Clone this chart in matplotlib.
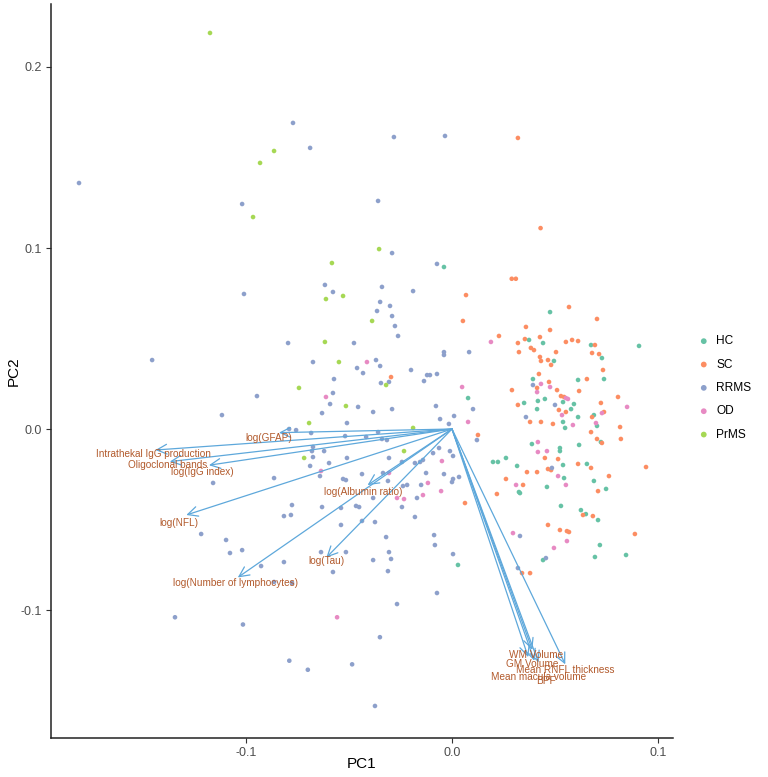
import numpy as np
import matplotlib.pyplot as plt

plt.rcParams['font.family'] = ['Liberation Sans', 'DejaVu Sans']

# PCA scores (PC1, PC2) per group
hc_x = [-0.0039, 0.0078, 0.0029, 0.0476, 0.0908, 0.0374, 0.0442, 0.0495, 0.0675, 0.0728,
        0.0738, 0.0612, 0.0393, 0.0451, 0.0417, 0.0350, 0.0539, 0.0592, 0.0578, 0.0413,
        0.0612, 0.0689, 0.0704, 0.0539, 0.0549, 0.0388, 0.0617, 0.0524, 0.0524, 0.0723,
        0.0199, 0.0223, 0.0262, 0.0316, 0.0539, 0.0655, 0.0544, 0.0689, 0.0748, 0.0461,
        0.0325, 0.0330, 0.0529, 0.0626, 0.0650, 0.0709, 0.0718, 0.0694, 0.0845, 0.0442]
hc_y = [0.0895, 0.0171, -0.0751, 0.0646, 0.0459, 0.0492, 0.0475, 0.0376, 0.0464, 0.0392,
        0.0276, 0.0271, 0.0276, 0.0166, 0.0155, 0.0144, 0.0149, 0.0138, 0.0110, 0.0110,
        0.0066, 0.0077, 0.0017, 0.0039, 0.0006, -0.0083, -0.0088, -0.0105, -0.0122, -0.0072,
        -0.0182, -0.0182, -0.0160, -0.0204, -0.0199, -0.0193, -0.0271, -0.0287, -0.0331, -0.0320,
        -0.0348, -0.0354, -0.0425, -0.0448, -0.0470, -0.0503, -0.0641, -0.0707, -0.0696, -0.0724]

sc_x = [0.0320, 0.0430, 0.0290, 0.0310, 0.0068, 0.0053, -0.0296, 0.0126, 0.0568, 0.0704,
        0.0359, 0.0228, 0.0476, 0.0320, 0.0354, 0.0427, 0.0325, 0.0383, 0.0398, 0.0505,
        0.0427, 0.0432, 0.0466, 0.0481, 0.0553, 0.0583, 0.0612, 0.0694, 0.0680, 0.0714,
        0.0733, 0.0422, 0.0655, 0.0471, 0.0413, 0.0510, 0.0617, 0.0291, 0.0529, 0.0544,
        0.0320, 0.0723, 0.0806, 0.0519, 0.0553, 0.0680, 0.0738, 0.0379, 0.0432, 0.0490,
        0.0675, 0.0816, 0.0820, 0.0704, 0.0728, 0.0451, 0.0515, 0.0612, 0.0675, 0.0364,
        0.0413, 0.0466, 0.0481, 0.0942, 0.0762, 0.0262, 0.0218, 0.0345, 0.0709, 0.0063,
        0.0636, 0.0684, 0.0466, 0.0524, 0.0558, 0.0568, 0.0888, 0.0340, 0.0379]
sc_y = [0.1608, 0.1110, 0.0830, 0.0830, 0.0740, 0.0597, 0.0287, -0.0033, 0.0674, 0.0608,
        0.0564, 0.0514, 0.0547, 0.0475, 0.0497, 0.0508, 0.0425, 0.0448, 0.0436, 0.0425,
        0.0398, 0.0376, 0.0381, 0.0354, 0.0481, 0.0492, 0.0486, 0.0464, 0.0420, 0.0414,
        0.0326, 0.0304, 0.0276, 0.0260, 0.0227, 0.0215, 0.0210, 0.0215, 0.0182, 0.0177,
        0.0133, 0.0144, 0.0177, 0.0105, 0.0094, 0.0066, 0.0094, 0.0039, 0.0039, 0.0028,
        -0.0017, 0.0011, -0.0055, -0.0055, -0.0077, -0.0160, -0.0166, -0.0193, -0.0215, -0.0238,
        -0.0238, -0.0221, -0.0227, -0.0210, -0.0260, -0.0276, -0.0359, -0.0309, -0.0343, -0.0409,
        -0.0475, -0.0481, -0.0530, -0.0558, -0.0564, -0.0569, -0.0580, -0.0796, -0.0796]

rrms_x = [-0.0772, -0.0689, -0.0282, -0.0034, -0.1811, -0.1019, -0.0359, -0.0291, -0.0073, -0.0617,
          -0.0340, -0.1010, -0.0578, -0.0189, -0.0349, -0.0301, -0.0364, -0.0291, -0.0277, -0.0262,
          -0.0796, -0.0476, -0.0039, -0.0039, 0.0083, -0.1456, -0.0675, -0.0369, -0.0461, -0.0349,
          -0.0432, -0.0199, -0.0121, -0.0107, -0.0073, -0.0136, -0.0573, -0.0345, -0.0306, -0.0947,
          -0.0578, -0.0592, -0.0456, -0.0383, -0.0291, -0.0078, 0.0010, -0.0058, -0.0015, 0.0121,
          -0.1117, -0.0631, -0.0510, -0.0791, -0.0757, -0.0684, -0.0519, -0.0417, -0.0359, -0.0340,
          -0.0316, -0.0675, -0.0680, -0.0621, -0.0092, -0.0063, -0.0010, 0.0005, -0.0675, -0.0510,
          -0.0306, -0.0141, -0.0155, -0.0180, -0.0243, -0.0597, -0.0689, -0.0641, -0.0864, -0.1160,
          -0.0437, -0.0335, -0.0126, -0.0039, -0.0529, -0.0515, -0.0311, 0.0005, 0.0034, 0.0000,
          -0.0238, -0.0218, -0.0150, -0.0170, -0.0383, -0.0243, -0.0180, -0.0777, -0.0816, -0.0782,
          -0.0631, -0.0539, -0.0466, -0.0451, -0.0539, -0.0437, -0.0374, -0.1218, -0.1097, -0.1078,
          -0.1019, -0.0927, -0.0816, -0.0636, -0.0515, -0.0383, -0.0320, -0.0306, -0.0296, -0.0311,
          -0.0578, -0.0087, -0.0083, 0.0005, -0.0073, -0.0267, -0.0864, -0.0777, 0.0393, 0.0500,
          0.0359, 0.0102, 0.0485, 0.0330, 0.0320, 0.0456, -0.1345, -0.1015, -0.0790, -0.0700,
          -0.0485, -0.0350, -0.0374]
rrms_y = [0.1691, 0.1553, 0.1613, 0.1619, 0.1359, 0.1243, 0.1260, 0.0972, 0.0912, 0.0796,
          0.0785, 0.0746, 0.0757, 0.0762, 0.0702, 0.0680, 0.0652, 0.0624, 0.0569, 0.0514,
          0.0475, 0.0475, 0.0425, 0.0409, 0.0425, 0.0381, 0.0370, 0.0381, 0.0337, 0.0348,
          0.0309, 0.0326, 0.0298, 0.0298, 0.0304, 0.0265, 0.0276, 0.0254, 0.0260, 0.0182,
          0.0199, 0.0138, 0.0122, 0.0094, 0.0110, 0.0127, 0.0072, 0.0055, 0.0028, -0.0061,
          0.0077, 0.0088, 0.0033, 0.0000, -0.0006, -0.0022, -0.0039, -0.0044, -0.0017, -0.0055,
          -0.0061, -0.0099, -0.0122, -0.0122, -0.0133, -0.0105, -0.0122, -0.0149, -0.0155, -0.0160,
          -0.0160, -0.0171, -0.0182, -0.0188, -0.0182, -0.0188, -0.0204, -0.0260, -0.0271, -0.0298,
          -0.0249, -0.0243, -0.0243, -0.0249, -0.0276, -0.0282, -0.0287, -0.0276, -0.0265, -0.0293,
          -0.0315, -0.0309, -0.0309, -0.0381, -0.0381, -0.0431, -0.0486, -0.0420, -0.0481, -0.0475,
          -0.0431, -0.0436, -0.0425, -0.0431, -0.0530, -0.0508, -0.0514, -0.0580, -0.0613, -0.0685,
          -0.0669, -0.0757, -0.0735, -0.0680, -0.0680, -0.0724, -0.0597, -0.0680, -0.0718, -0.0785,
          -0.0790, -0.0586, -0.0641, -0.0691, -0.0906, -0.0967, -0.0845, -0.0851, 0.0243, 0.0133,
          0.0066, 0.0110, -0.0215, -0.0591, -0.0768, -0.0713, -0.1040, -0.1080, -0.1280, -0.1330,
          -0.1300, -0.1150, -0.1530]

od_x = [0.0049, 0.0078, -0.0612, -0.0413, -0.0049, -0.0636, -0.0306, -0.0117, -0.0053, -0.0267,
        -0.0233, -0.0141, 0.0189, 0.0432, 0.0476, 0.0413, 0.0553, 0.0563, 0.0534, 0.0587,
        0.0699, 0.0728, 0.0850, 0.0417, 0.0417, 0.0461, 0.0515, 0.0553, 0.0311, 0.0296,
        0.0495, 0.0558, -0.0558]
od_y = [0.0232, 0.0039, 0.0177, 0.0370, -0.0177, -0.0232, -0.0243, -0.0298, -0.0343, -0.0381,
        -0.0387, -0.0365, 0.0481, 0.0249, 0.0232, 0.0204, 0.0171, 0.0166, 0.0077, 0.0022,
        0.0033, 0.0088, 0.0122, -0.0072, -0.0127, -0.0122, -0.0260, -0.0309, -0.0309, -0.0575,
        -0.0657, -0.0619, -0.1040]

prms_x = [-0.1175, -0.0864, -0.0932, -0.0966, -0.0354, -0.0583, -0.0529, -0.0612, -0.0388, -0.0617,
          -0.0549, -0.0320, -0.0743, -0.0515, -0.0694, -0.0189, -0.0233, -0.0718]
prms_y = [0.2188, 0.1536, 0.1470, 0.1171, 0.0994, 0.0917, 0.0735, 0.0718, 0.0597, 0.0481,
          0.0370, 0.0243, 0.0227, 0.0127, 0.0033, 0.0006, -0.0122, -0.0160]

groups = ['HC', 'SC', 'RRMS', 'OD', 'PrMS']
colors = ['#66C2A5', '#FC8D62', '#8DA0CB', '#E78AC3', '#A6D854']
scores = [(hc_x, hc_y), (sc_x, sc_y), (rrms_x, rrms_y), (od_x, od_y), (prms_x, prms_y)]

# loadings: arrow tips and label positions
var_names = ['log(GFAP)', 'Intrathekal IgG production', 'Oligoclonal bands', 'log(IgG index)',
             'log(NFL)', 'log(Albumin ratio)', 'log(Number of lymphocytes)', 'log(Tau)',
             'WM Volume', 'GM Volume', 'Mean RNFL thickness', 'Mean macula volume', 'BPF']
tip_x = [-0.084, -0.144, -0.137, -0.118, -0.129, -0.041, -0.104, -0.061,
         0.039, 0.037, 0.055, 0.040, 0.042]
tip_y = [-0.002, -0.0116, -0.018, -0.020, -0.0475, -0.031, -0.082, -0.071,
         -0.122, -0.126, -0.130, -0.128, -0.129]
lab_x = [-0.089, -0.145, -0.138, -0.121, -0.1325, -0.043, -0.105, -0.061,
         0.041, 0.039, 0.055, 0.042, 0.0456]
lab_y = [-0.005, -0.014, -0.020, -0.024, -0.052, -0.035, -0.085, -0.073,
         -0.125, -0.130, -0.133, -0.137, -0.139]

fig = plt.figure(figsize=(7.68, 7.77), dpi=100)
ax = fig.add_axes([51/768, 39/777, 622/768, 734/777])

for (gx, gy), g, c in zip(scores, groups, colors):
    ax.scatter(gx, gy, s=11, color=c, edgecolors='none', label=g, zorder=2)

arrow_col = '#5EA8DB'
for i in range(len(var_names)):
    ax.annotate('', xy=(tip_x[i], tip_y[i]), xytext=(0, 0),
                arrowprops=dict(arrowstyle='->,head_length=0.45,head_width=0.22',
                                color=arrow_col, lw=0.9, shrinkA=0, shrinkB=0,
                                mutation_scale=16), zorder=3)
    ax.text(lab_x[i], lab_y[i], var_names[i], ha='center', va='center',
            fontsize=7.2, color='#B25A2C', zorder=4)

ax.set_xlim(-0.1947, 0.1073)
ax.set_ylim(-0.1707, 0.2348)
ax.set_xticks([-0.1, 0.0, 0.1])
ax.set_yticks([-0.1, 0.0, 0.1, 0.2])
ax.set_xticklabels(['-0.1', '0.0', '0.1'])
ax.set_yticklabels(['-0.1', '0.0', '0.1', '0.2'])
ax.tick_params(labelsize=9, labelcolor='#4D4D4D', length=3.5, width=0.8, color='#333333', pad=3)
for side in ['top', 'right']:
    ax.spines[side].set_visible(False)
for side in ['left', 'bottom']:
    ax.spines[side].set_linewidth(1.1)
    ax.spines[side].set_color('#222222')

fig.text(362/768, 1 - 764/777, 'PC1', ha='center', va='center', fontsize=11)
fig.text(14/768, 1 - 371/777, 'PC2', ha='center', va='center', fontsize=11, rotation=90)

fig.legend(loc='center left', bbox_to_anchor=(696/768, 1 - 388/777), frameon=False,
           fontsize=8.6, handletextpad=0.4, labelspacing=0.95, markerscale=1.25,
           borderaxespad=0, borderpad=0, handlelength=1.3)

fig.savefig('out.png', dpi=100)
